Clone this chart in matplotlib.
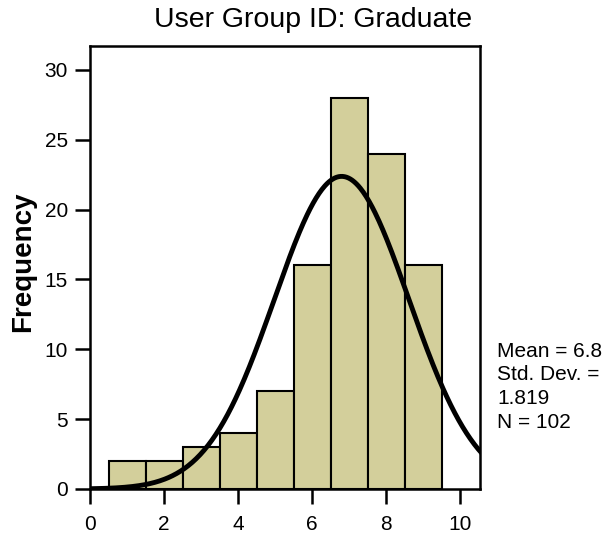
import numpy as np
import matplotlib.pyplot as plt

plt.rcParams['font.family'] = ['Liberation Sans', 'DejaVu Sans']

bin_centers = [1, 2, 3, 4, 5, 6, 7, 8, 9]
counts = [2, 2, 3, 4, 7, 16, 28, 24, 16]
mean = 6.8
std = 1.819
n = 102

fig = plt.figure(figsize=(6.08, 5.35), dpi=100)
ax = fig.add_axes([90 / 608, 46 / 535, 390 / 608, 443 / 535])

ax.bar(bin_centers, counts, width=1.0, color='#d3cf9b', edgecolor='black', linewidth=1.5, zorder=2)

# normal curve scaled to the histogram (bin width 1)
xs = np.linspace(0, 10.6, 400)
ys = n * 1.0 / (std * np.sqrt(2 * np.pi)) * np.exp(-0.5 * ((xs - mean) / std) ** 2)
ax.plot(xs, ys, color='black', linewidth=3.5, zorder=3)

ax.set_xlim(0, 10.54)
ax.set_ylim(0, 31.7)
ax.set_xticks([0, 2, 4, 6, 8, 10])
ax.set_yticks([0, 5, 10, 15, 20, 25, 30])
ax.tick_params(direction='out', length=11, width=1.8, labelsize=15, pad=5)
ax.tick_params(axis='x', pad=8)
for s in ax.spines.values():
    s.set_linewidth(1.8)

fig.text(23 / 608, 1 - 262 / 535, 'Frequency', fontsize=20, fontweight='bold',
         rotation=90, ha='center', va='center')
fig.text(313 / 608, 1 - 20 / 535, 'User Group ID: Graduate', fontsize=20.5, ha='center', va='center')
fig.text(497 / 608, 1 - 342 / 535, 'Mean = 6.8\nStd. Dev. =\n1.819\nN = 102',
         fontsize=15, ha='left', va='top', linespacing=1.3)

fig.savefig('out.png', dpi=100)
